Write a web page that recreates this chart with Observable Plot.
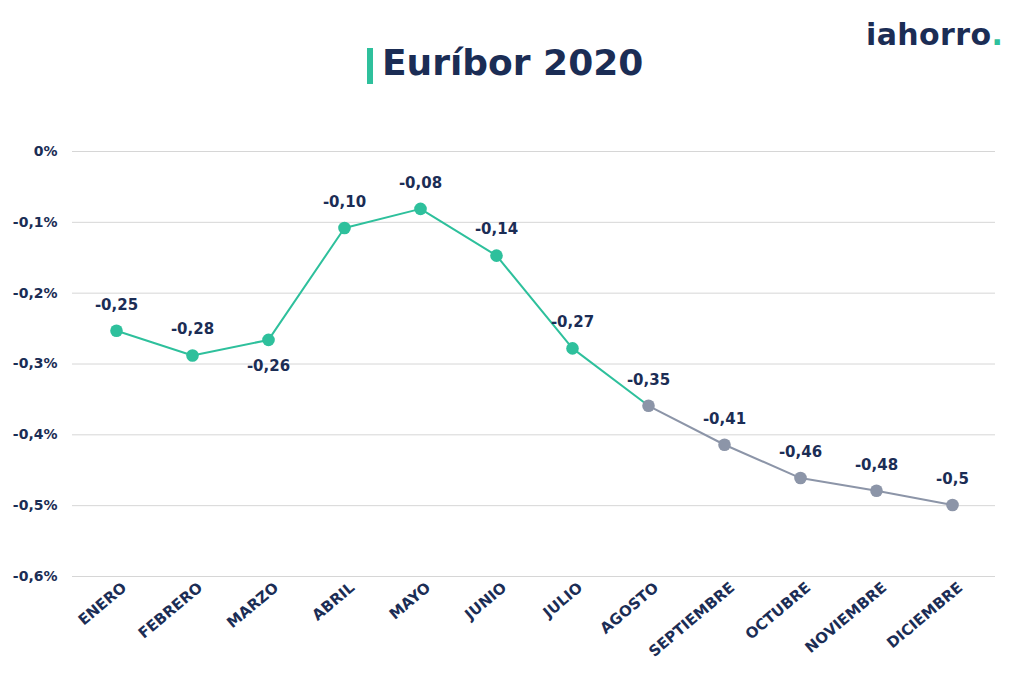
<!DOCTYPE html>
<html>
<head>
<meta charset="utf-8">
<script src="https://cdn.jsdelivr.net/npm/d3@7"></script>
<script src="https://cdn.jsdelivr.net/npm/@observablehq/plot@0.6"></script>
<style>
  html, body { margin: 0; padding: 0; background: #ffffff; }
  #wrap { position: relative; width: 1024px; height: 682px; overflow: hidden; font-family: "DejaVu Sans", sans-serif; }
  #title { position: absolute; left: 367px; top: 44.5px; white-space: nowrap; font-size: 36px; line-height: 36px; font-weight: 700; color: #1b2d55; }
  #title .bar { display: inline-block; width: 6px; height: 36px; background: #2ec09c; vertical-align: -9px; margin-right: 9px; }
  #logo { position: absolute; left: 866px; top: 19.6px; font-size: 30px; line-height: 30px; font-weight: 700; color: #1b2d55; white-space: nowrap; letter-spacing: 0.4px; }
  #logo span { color: #2ec09c; }
  #chart { position: absolute; left: 0; top: 0; }
</style>
</head>
<body>
<div id="wrap">
  <div id="chart"></div>
  <div id="title"><span class="bar"></span>Euríbor 2020</div>
  <div id="logo">iahorro<span>.</span></div>
</div>
<script>
const months = ["ENERO","FEBRERO","MARZO","ABRIL","MAYO","JUNIO","JULIO","AGOSTO","SEPTIEMBRE","OCTUBRE","NOVIEMBRE","DICIEMBRE"];
const values = [-0.253,-0.288,-0.266,-0.108,-0.081,-0.147,-0.278,-0.359,-0.414,-0.461,-0.479,-0.499];
const valueLabels = ["-0,25","-0,28","-0,26","-0,10","-0,08","-0,14","-0,27","-0,35","-0,41","-0,46","-0,48","-0,5"];
const yTicks = [0,-0.1,-0.2,-0.3,-0.4,-0.5,-0.6];
const yTickLabels = ["0%","-0,1%","-0,2%","-0,3%","-0,4%","-0,5%","-0,6%"];
const tealMonths = months.slice(0, 8);   // line segment Enero–Agosto
const grayMonths = months.slice(7);      // line segment Agosto–Diciembre
const tealDotMonths = months.slice(0, 7);
const labelsBelow = ["MARZO"];

const teal = "#2ec09c";
const gray = "#8c95a8";
const ink = "#1b2d55";

const data = months.map((m, i) => ({month: m, value: values[i], label: valueLabels[i]}));

const chart = Plot.plot({
  width: 1024,
  height: 682,
  marginTop: 151,
  marginBottom: 106,
  marginLeft: 72,
  marginRight: 29,
  style: {fontFamily: "'DejaVu Sans', sans-serif", color: ink, background: "transparent"},
  x: {type: "point", domain: months, padding: 0.5, label: null},
  y: {domain: [-0.6, 0], label: null},
  marks: [
    Plot.gridY(yTicks, {stroke: "#d6d6d6", strokeOpacity: 1, strokeWidth: 1}),
    Plot.axisY(yTicks, {tickSize: 0, tickPadding: 15, label: null, fontSize: 14, fontWeight: 700, fill: ink,
      tickFormat: (d) => yTickLabels[yTicks.indexOf(d)]}),
    Plot.axisX({tickSize: 0, tickPadding: 9, tickRotate: -40, label: null, fontSize: 15, fontWeight: 700, fill: ink, dx: 8}),
    Plot.line(data.filter(d => tealMonths.includes(d.month)), {x: "month", y: "value", stroke: teal, strokeWidth: 2}),
    Plot.line(data.filter(d => grayMonths.includes(d.month)), {x: "month", y: "value", stroke: gray, strokeWidth: 2}),
    Plot.dot(data, {x: "month", y: "value", r: 6.3, fill: d => tealDotMonths.includes(d.month) ? teal : gray, stroke: null}),
    Plot.text(data.filter(d => !labelsBelow.includes(d.month)), {x: "month", y: "value", text: "label", dy: -26, fontSize: 15, fontWeight: 700, fill: ink}),
    Plot.text(data.filter(d => labelsBelow.includes(d.month)), {x: "month", y: "value", text: "label", dy: 26, fontSize: 15, fontWeight: 700, fill: ink})
  ]
});
document.getElementById("chart").appendChild(chart);
</script>
</body>
</html>
